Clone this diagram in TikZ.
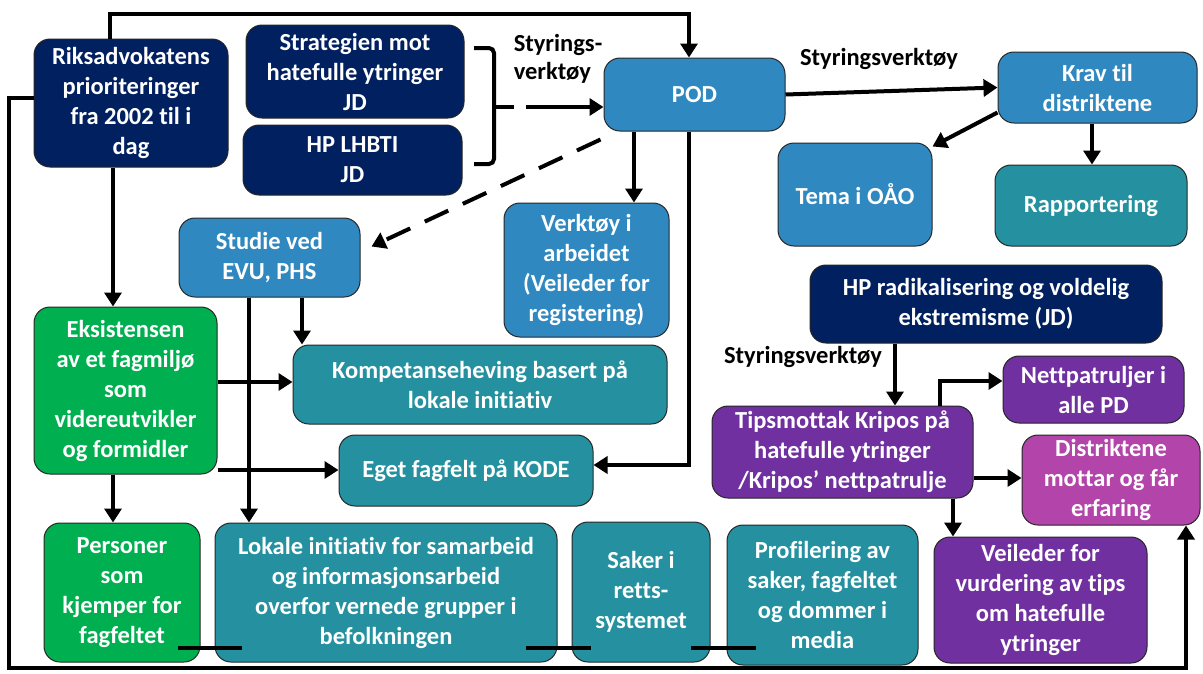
\documentclass[tikz,border=0pt]{standalone}
\usepackage{fontspec}
\setmainfont[Ligatures=NoCommon]{Carlito}
\usetikzlibrary{arrows.meta,calc}
\definecolor{navy}{RGB}{0,32,96}
\definecolor{medblue}{RGB}{47,136,192}
\definecolor{tealc}{RGB}{37,145,160}
\definecolor{greenc}{RGB}{0,176,80}
\definecolor{purplec}{RGB}{112,48,160}
\definecolor{magc}{RGB}{178,68,170}
\begin{document}
\begin{tikzpicture}[x=1pt,y=-1pt,
  box/.style={draw=black!85, line width=1pt, rounded corners=16pt, text=white,
    font=\bfseries\fontsize{24.5}{30}\selectfont, align=center, inner sep=0pt},
  conn/.style={line width=4pt, black},
  arr/.style={conn, -{Triangle[length=14pt,width=17pt]}},
  lab/.style={font=\bfseries\fontsize{24.5}{28}\selectfont, text=black, align=left, inner sep=0pt}]
\useasboundingbox (0,0) rectangle (1203,673);

% boxes
\node[box, fill=navy, minimum width=194pt, minimum height=128pt] (riks) at (131,103) {Riksadvokatens\\prioriteringer\\fra 2002 til i\\dag};
\node[box, fill=navy, minimum width=218pt, minimum height=93pt] (strat) at (355,71.5) {Strategien mot\\hatefulle ytringer\\JD};
\node[box, fill=navy, minimum width=219pt, minimum height=70pt] (lhbti) at (352.5,160) {HP LHBTI\\JD};
\node[box, fill=medblue, minimum width=181pt, minimum height=73pt] (pod) at (694.5,94.5) {POD};
\node[box, fill=medblue, minimum width=199pt, minimum height=71pt] (krav) at (1097.5,87.5) {Krav til\\distriktene};
\node[box, fill=medblue, minimum width=154pt, minimum height=103pt] (tema) at (855,194.5) {Tema i OÅO};
\node[box, fill=tealc, minimum width=192pt, minimum height=81pt] (rapp) at (1091,205.5) {Rapportering};
\node[box, fill=medblue, minimum width=181pt, minimum height=79pt] (studie) at (269.5,257.5) {Studie ved\\EVU, PHS};
\node[box, fill=medblue, minimum width=165pt, minimum height=134pt] (verktoy) at (586.5,270) {Verktøy i\\arbeidet\\(Veileder for\\registering)};
\node[box, fill=navy, minimum width=352pt, minimum height=78pt] (hprad) at (986,304) {HP radikalisering og voldelig\\ekstremisme (JD)};
\node[box, fill=greenc, minimum width=183pt, minimum height=167pt] (eks) at (125.5,390.5) {Eksistensen\\av et fagmiljø\\som\\videreutvikler\\og formidler};
\node[box, fill=tealc, minimum width=374pt, minimum height=79pt] (komp) at (480,384.5) {Kompetanseheving basert på\\lokale initiativ};
\node[box, fill=tealc, minimum width=254pt, minimum height=71pt] (eget) at (466,470.5) {Eget fagfelt på KODE};
\node[box, fill=purplec, minimum width=261pt, minimum height=92pt] (tips) at (842.5,452) {Tipsmottak Kripos på\\hatefulle ytringer\\/Kripos’ nettpatrulje};
\node[box, fill=purplec, minimum width=181pt, minimum height=67pt] (nett) at (1093.5,389.5) {Nettpatruljer i\\alle PD};
\node[box, fill=magc, minimum width=178pt, minimum height=90pt] (distr) at (1111,480) {Distriktene\\mottar og får\\erfaring};
\node[box, fill=greenc, minimum width=156pt, minimum height=139pt] (pers) at (122,592.5) {Personer\\som\\kjemper for\\fagfeltet};
\node[box, fill=tealc, minimum width=342pt, minimum height=139pt] (lokale) at (386,592.5) {Lokale initiativ for samarbeid\\og informasjonsarbeid\\overfor vernede grupper i\\befolkningen};
\node[box, fill=tealc, minimum width=138pt, minimum height=140pt] (saker) at (641,592) {Saker i\\retts-\\systemet};
\node[box, fill=tealc, minimum width=191pt, minimum height=140pt] (profil) at (822.5,595) {Profilering av\\saker, fagfeltet\\og dommer i\\media};
\node[box, fill=purplec, minimum width=213pt, minimum height=126pt] (veil) at (1040.5,600) {Veileder for\\vurdering av tips\\om hatefulle\\ytringer};

% labels
\node[lab] (lab1) at (558,59) {Styrings-\\verktøy};
\node[lab] (lab2) at (879,59) {Styringsverktøy};
\node[lab] (lab3) at (803,357) {Styringsverktøy};

% coordinates
\coordinate (t1) at (110,14);
\coordinate (t2) at (689,14);
\coordinate (l1) at (9,98);
\coordinate (l2) at (9,668);
\coordinate (l3) at (1186,668);
\coordinate (c1) at (113,0);
\coordinate (c2) at (634,0);
\coordinate (c3) at (689,465);
\coordinate (c4) at (1092,0);
\coordinate (c5) at (249,0);
\coordinate (c6) at (302,0);
\coordinate (c7) at (0,382);
\coordinate (c8) at (0,470);
\coordinate (c9) at (895,0);
\coordinate (c10) at (940,381);
\coordinate (c11) at (0,478);
\coordinate (c12) at (953,0);
\coordinate (brtip) at (494,107);

% connectors
\draw[arr] (riks.north -| t1) -- (t1) -- (t2) -- (pod.north -| t2);
\draw[arr] (riks.west |- l1) -- (l1) -- (l2) -- (l3) -- (distr.south -| l3);
\draw[arr] (riks.south -| c1) -- (eks.north -| c1);
\draw[conn, rounded corners=5pt] (474,48) -- (494,48) -- (494,164) -- (474,164);
\draw[arr, dash pattern=on 20pt off 12pt on 90pt] (brtip) -- (pod.west |- brtip);
\draw[arr, dash pattern=on 26pt off 16pt] ($(pod.south west)+(-3,8)$) -- ($(studie.east)+(11,-11)$);
\draw[arr] (pod.south -| c2) -- (verktoy.north -| c2);
\draw[arr] (pod.south -| c3) -- (c3) -- (eget.east |- c3);
\draw[arr] (pod.east) -- (krav.west);
\draw[arr] ($(krav.south west)+(0,-11)$) -- ($(tema.north east)+(0,4)$);
\draw[arr] (krav.south -| c4) -- (rapp.north -| c4);
\draw[arr] (studie.south -| c5) -- (lokale.north -| c5);
\draw[arr] (studie.south -| c6) -- (komp.north -| c6);
\draw[arr] (eks.east |- c7) -- (komp.west |- c7);
\draw[arr] (eks.east |- c8) -- (eget.west |- c8);
\draw[arr] (eks.south -| c1) -- (pers.north -| c1);
\draw[arr] (hprad.south -| c9) -- (tips.north -| c9);
\draw[arr] (tips.north -| c10) -- (c10) -- (nett.west |- c10);
\draw[arr] (tips.east |- c11) -- (distr.west |- c11);
\draw[arr] (tips.south -| c12) -- (veil.north -| c12);
\draw[conn] (178,648) -- (242,648);
\draw[conn] (526,648) -- (591,648);
\draw[conn] (691,648) -- (756,648);
\end{tikzpicture}
\end{document}
